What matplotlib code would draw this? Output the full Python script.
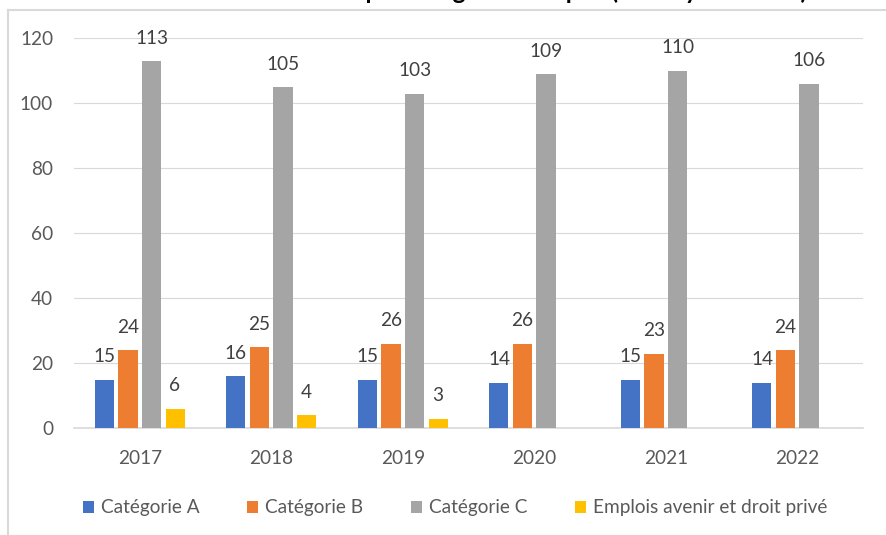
import numpy as np
import matplotlib
matplotlib.use("Agg")
import matplotlib.pyplot as plt
from matplotlib.lines import Line2D
from matplotlib.patches import Patch

years = ["2017", "2018", "2019", "2020", "2021", "2022"]
cat_a = [15, 16, 15, 14, 15, 14]
cat_b = [24, 25, 26, 26, 23, 24]
cat_c = [113, 105, 103, 109, 110, 106]
emplois = [6, 4, 3, np.nan, np.nan, np.nan]
series_names = ["Catégorie A", "Catégorie B", "Catégorie C", "Emplois avenir et droit privé"]
colors = ["#4472C4", "#ED7D31", "#A5A5A5", "#FFC000"]
title = "Effectifs par catégorie d'emploi (en moyenne ETP)"

plt.rcParams["font.family"] = ["Lato", "DejaVu Sans"]

fig = plt.figure(figsize=(8.87, 5.35), dpi=100)
ax = fig.add_axes([74 / 887, 1 - 428.3 / 535, (863 - 74) / 887, (428.3 - 38.3) / 535])

x = np.arange(len(years))
bw = 0.145
pitch = 0.179
all_series = [cat_a, cat_b, cat_c, emplois]
for i, (vals, col) in enumerate(zip(all_series, colors)):
    xs = x + (i - 1.5) * pitch
    v = np.array(vals, dtype=float)
    ax.bar(xs, np.nan_to_num(v), width=bw, color=col, zorder=3)
    for xi, vi in zip(xs, v):
        if not np.isnan(vi) and vi > 0:
            ax.annotate(f"{int(vi)}", (xi, vi), xytext=(0, 12.5), textcoords="offset points",
                        ha="center", va="baseline", fontsize=13.7, color="#404040")

ax.set_ylim(0, 120)
ax.set_xlim(-0.5, len(years) - 0.5)
ax.set_yticks(np.arange(0, 121, 20))
ax.set_xticks(x)
ax.set_xticklabels(years)
ax.tick_params(axis="both", length=0, labelsize=13.7, labelcolor="#595959")
ax.tick_params(axis="y", pad=15)
ax.tick_params(axis="x", pad=15.5)
ax.grid(axis="y", color="#D9D9D9", linewidth=0.8, zorder=0)
for s in ["top", "right", "left"]:
    ax.spines[s].set_visible(False)
ax.spines["bottom"].set_color("#D9D9D9")
ax.spines["bottom"].set_linewidth(1.2)
ax.set_facecolor("none")

handles = [Patch(facecolor=c, edgecolor="none") for c in colors]
fig.legend(handles, series_names, loc="center", bbox_to_anchor=(455 / 887, 1 - 508 / 535),
           ncol=4, frameon=False, fontsize=13.7, labelcolor="#595959",
           handlelength=0.6, handleheight=0.6, handletextpad=0.35, columnspacing=2.5)

# outer chart frame (partially visible)
fig.add_artist(Line2D([8.5 / 887, 8.5 / 887], [0, 1 - 10 / 535], transform=fig.transFigure,
                      color="#D9D9D9", linewidth=1.5))
fig.add_artist(Line2D([8.5 / 887, 1], [1 - 10 / 535, 1 - 10 / 535], transform=fig.transFigure,
                      color="#D9D9D9", linewidth=1.5))

fig.text(538 / 887, 1 + 1.0 / 535, title, ha="center", va="baseline", fontsize=17.5,
         fontweight="bold", color="black")

fig.savefig("out.png", dpi=100)
